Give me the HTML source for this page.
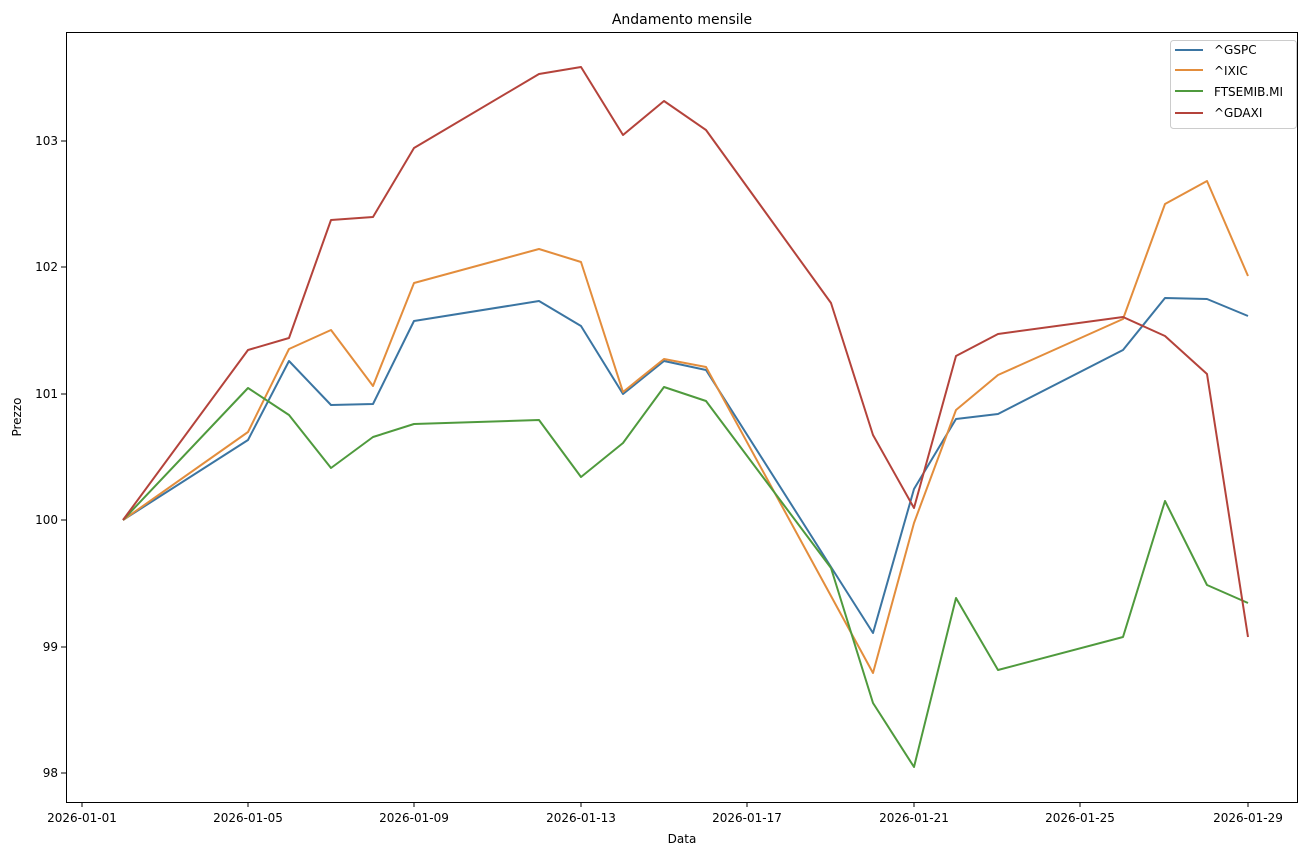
<!DOCTYPE html>
<html><head><meta charset="utf-8"><style>body{margin:0;background:#fff}svg{display:block;font-family:"DejaVu Sans","Liberation Sans",sans-serif}</style></head><body>
<svg width="1315" height="855" xmlns="http://www.w3.org/2000/svg">
<rect width="1315" height="855" fill="#fff"/>
<g fill="none" stroke-width="2" stroke-linejoin="round">
<polyline stroke="#3b75a2" points="123,520 248,440 289,361 331,405 373,404 414,321 539,301 581,326 623,394 664,361 706,370 831,567 873,633 914,489 956,419 998,414 1123,350 1165,298 1207,299 1248,316"/>
<polyline stroke="#e38d3c" points="123,520 248,432 289,349 331,330 373,386 414,283 539,249 581,262 623,392 664,359 706,367 831,596 873,673 914,523 956,410 998,375 1123,319 1165,204 1207,181 1248,276"/>
<polyline stroke="#4f9a3d" points="123,520 248,388 289,415 331,468 373,437 414,424 539,420 581,477 623,443 664,387 706,401 831,568 873,703 914,767 956,598 998,670 1123,637 1165,501 1207,585 1248,603"/>
<polyline stroke="#b4433b" points="123,520 248,350 289,338 331,220 373,217 414,148 539,74 581,67 623,135 664,101 706,130 831,303 873,435 914,508 956,356 998,334 1123,317 1165,336 1207,374 1248,637"/>
</g>
<rect x="66.5" y="32.5" width="1231" height="770" fill="none" stroke="#000" stroke-width="1"/>
<g stroke="#000" stroke-width="1">
<line x1="248" y1="802" x2="248" y2="807"/><line x1="414" y1="802" x2="414" y2="807"/><line x1="581" y1="802" x2="581" y2="807"/><line x1="747" y1="802" x2="747" y2="807"/><line x1="914" y1="802" x2="914" y2="807"/><line x1="1080" y1="802" x2="1080" y2="807"/><line x1="1248" y1="802" x2="1248" y2="807"/><line x1="82" y1="802" x2="82" y2="807"/>
<line x1="61" y1="773" x2="66" y2="773"/><line x1="61" y1="647" x2="66" y2="647"/><line x1="61" y1="520" x2="66" y2="520"/><line x1="61" y1="394" x2="66" y2="394"/><line x1="61" y1="267" x2="66" y2="267"/><line x1="61" y1="141" x2="66" y2="141"/>
</g>
<g font-size="12" fill="#000" text-anchor="middle">
<text x="82" y="822">2026-01-01</text><text x="248" y="822">2026-01-05</text><text x="414" y="822">2026-01-09</text><text x="581" y="822">2026-01-13</text><text x="747" y="822">2026-01-17</text><text x="914" y="822">2026-01-21</text><text x="1080" y="822">2026-01-25</text><text x="1248" y="822">2026-01-29</text>
</g>
<g font-size="12" fill="#000" text-anchor="end">
<text x="58" y="777">98</text><text x="58" y="651">99</text><text x="58" y="524">100</text><text x="58" y="398">101</text><text x="58" y="271">102</text><text x="58" y="145">103</text>
</g>
<text x="682" y="843" font-size="12" text-anchor="middle">Data</text>
<text x="21" y="417" font-size="12" text-anchor="middle" transform="rotate(-90 21 417)">Prezzo</text>
<text x="682" y="24" font-size="14" text-anchor="middle">Andamento mensile</text>
<rect x="1170.5" y="40.5" width="126" height="88" rx="3" fill="#fff" fill-opacity="0.8" stroke="#ccc"/>
<g stroke-width="2">
<line x1="1175" y1="50" x2="1203" y2="50" stroke="#3b75a2"/>
<line x1="1175" y1="70" x2="1203" y2="70" stroke="#e38d3c"/>
<line x1="1175" y1="91" x2="1203" y2="91" stroke="#4f9a3d"/>
<line x1="1175" y1="113" x2="1203" y2="113" stroke="#b4433b"/>
</g>
<g font-size="12" fill="#000">
<text x="1214" y="54">^GSPC</text><text x="1214" y="75">^IXIC</text><text x="1214" y="96">FTSEMIB.MI</text><text x="1214" y="117">^GDAXI</text>
</g>
</svg>
</body></html>
